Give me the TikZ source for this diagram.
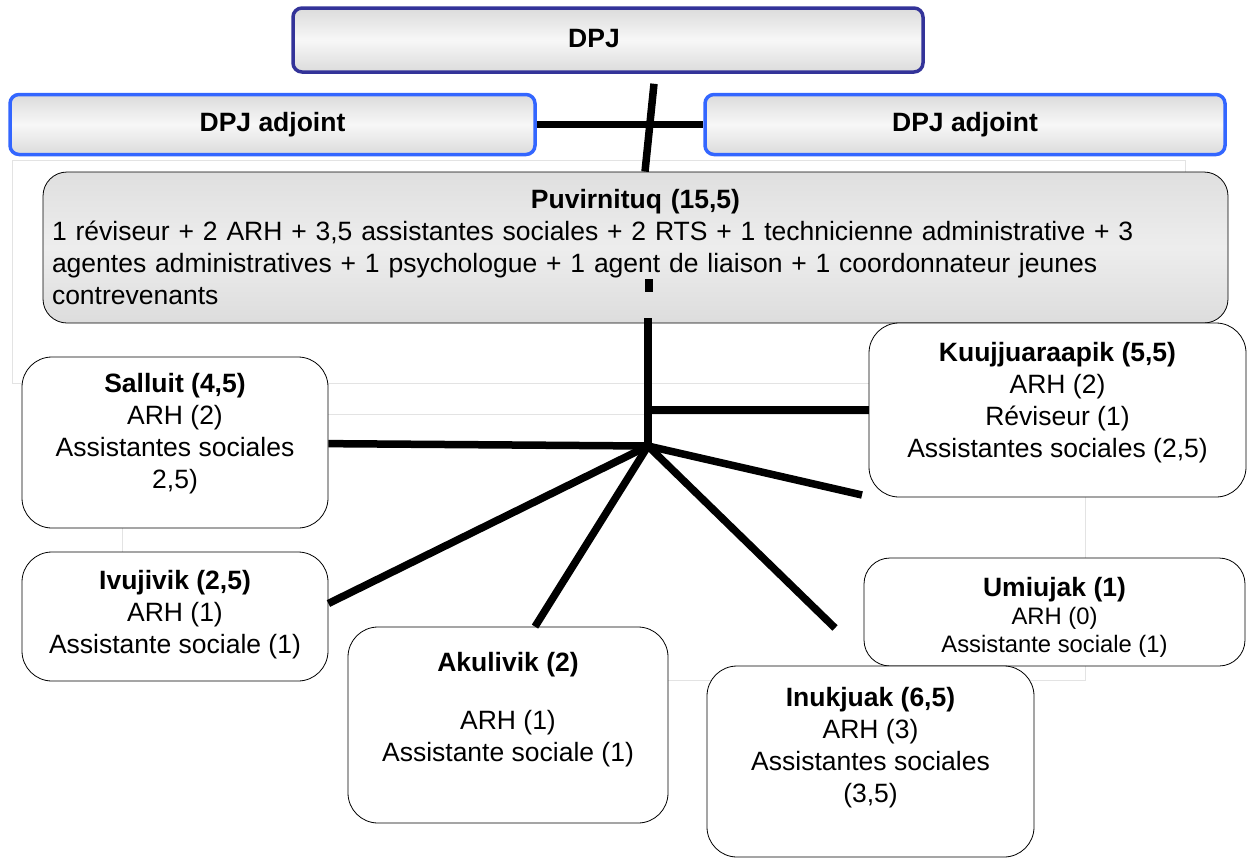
\documentclass[tikz,border=0pt]{standalone}
\usepackage{fontspec}
\setmainfont{Liberation Sans}
\usetikzlibrary{calc}

\definecolor{dpjblue}{HTML}{333399}
\definecolor{adjblue}{HTML}{3366FF}
\newcommand{\sitebox}[4]{\parbox[c][#2][t]{#1}{\vspace*{#3}\centering #4}}

\begin{document}
\begin{tikzpicture}[x=1pt,y=-1pt,thick,
  font=\fontsize{26.5}{32}\selectfont,
  top node/.style={rounded corners=9pt,line width=3.5pt,top color=gray!28,bottom color=gray!28,middle color=gray!6,minimum height=60pt,inner sep=0pt},
  office node/.style={draw,rounded corners=24pt,top color=gray!25,bottom color=gray!27,middle color=gray!14,inner sep=0pt},
  site node/.style={draw,rounded corners=30pt,fill=white,inner sep=0pt},
  link/.style={line width=7.5pt},
  frame/.style={gray!22,line width=0.8pt}]

\useasboundingbox (0,0) rectangle (1247,857);

% faint frame left over behind the chart
\draw[frame] (12,383) -- (12,160) -- (1185,160) -- (1185,172);
\draw[frame] (12,383) -- (869,383);
\draw[frame] (328,414) -- (869,414);
\draw[frame] (122,528) -- (122,552);
\draw[frame] (1085,497) -- (1085,558);
\draw[frame] (1085,666) -- (1085,680) -- (668,680);

\node[top node,draw=dpjblue,minimum width=630pt,minimum height=64pt](dpj) at (608,40) {\raisebox{3pt}{\bfseries DPJ}\rule{28pt}{0pt}};
\node[top node,draw=adjblue,minimum width=525pt](adjL) at (272.5,124.5) {\bfseries DPJ adjoint};
\node[top node,draw=adjblue,minimum width=520pt](adjR) at (965,124.5) {\bfseries DPJ adjoint};

\node[office node,minimum width=1185pt,minimum height=151pt,text width=1167pt,align=left](puv) at (635.5,247.5)
  {\makebox[1167pt]{\bfseries Puvirnituq (15,5)}\\
   1 réviseur + 2 ARH + 3,5 assistantes sociales + 2 RTS + 1 technicienne administrative + 3\\
   agentes administratives + 1 psychologue + 1 agent de liaison + 1 coordonnateur jeunes\\
   contrevenants};

\node[site node](salluit) at (175,442.5)
  {\sitebox{306pt}{171pt}{16pt}{\bfseries Salluit (4,5)\\ \mdseries ARH (2)\\ Assistantes sociales\\ 2,5)}};
\node[site node](kuuj) at (1057.5,410)
  {\sitebox{377pt}{174pt}{19pt}{\bfseries Kuujjuaraapik (5,5)\\ \mdseries ARH (2)\\ Réviseur (1)\\ Assistantes sociales (2,5)}};
\node[site node](ivujivik) at (175,616.5)
  {\sitebox{306pt}{129pt}{18pt}{\bfseries Ivujivik (2,5)\\ \mdseries ARH (1)\\ Assistante sociale (1)}};
\node[site node,rounded corners=26pt](umiujak) at (1054.5,612)
  {\sitebox{381pt}{108pt}{19pt}{\bfseries Umiujak (1)\\ \mdseries\fontsize{23.8}{28}\selectfont ARH (0)\\ Assistante sociale (1)}};
\node[site node](akulivik) at (508,725)
  {\sitebox{320pt}{196pt}{25pt}{\bfseries Akulivik (2)\\[26pt] \mdseries ARH (1)\\ Assistante sociale (1)}};
\node[site node](inukjuak) at (870.5,761.5)
  {\sitebox{327pt}{191pt}{21pt}{\bfseries Inukjuak (6,5)\\ \mdseries ARH (3)\\ Assistantes sociales\\ (3,5)}};

\coordinate (hub) at (648,446);
\coordinate (umiEnd) at (835,628);
\coordinate (kuuEnd) at (862,495);

\path[link]
($(dpj.south)+(46,10)$) edge ($(puv.north)+(9.5,0)$)
(adjL) edge (adjR)
(649,279) edge (649,292)
($(puv.south)+(12.5,-5)$) edge ($(hub)+(0,3)$)
(hub |- kuuj) edge (kuuj)
(hub) edge (salluit)
(hub) edge ($(ivujivik.east)+(0,-13)$)
(hub) edge ($(akulivik.north)+(27,0)$)
(hub) edge (umiEnd)
(hub) edge (kuuEnd);

\end{tikzpicture}
\end{document}
